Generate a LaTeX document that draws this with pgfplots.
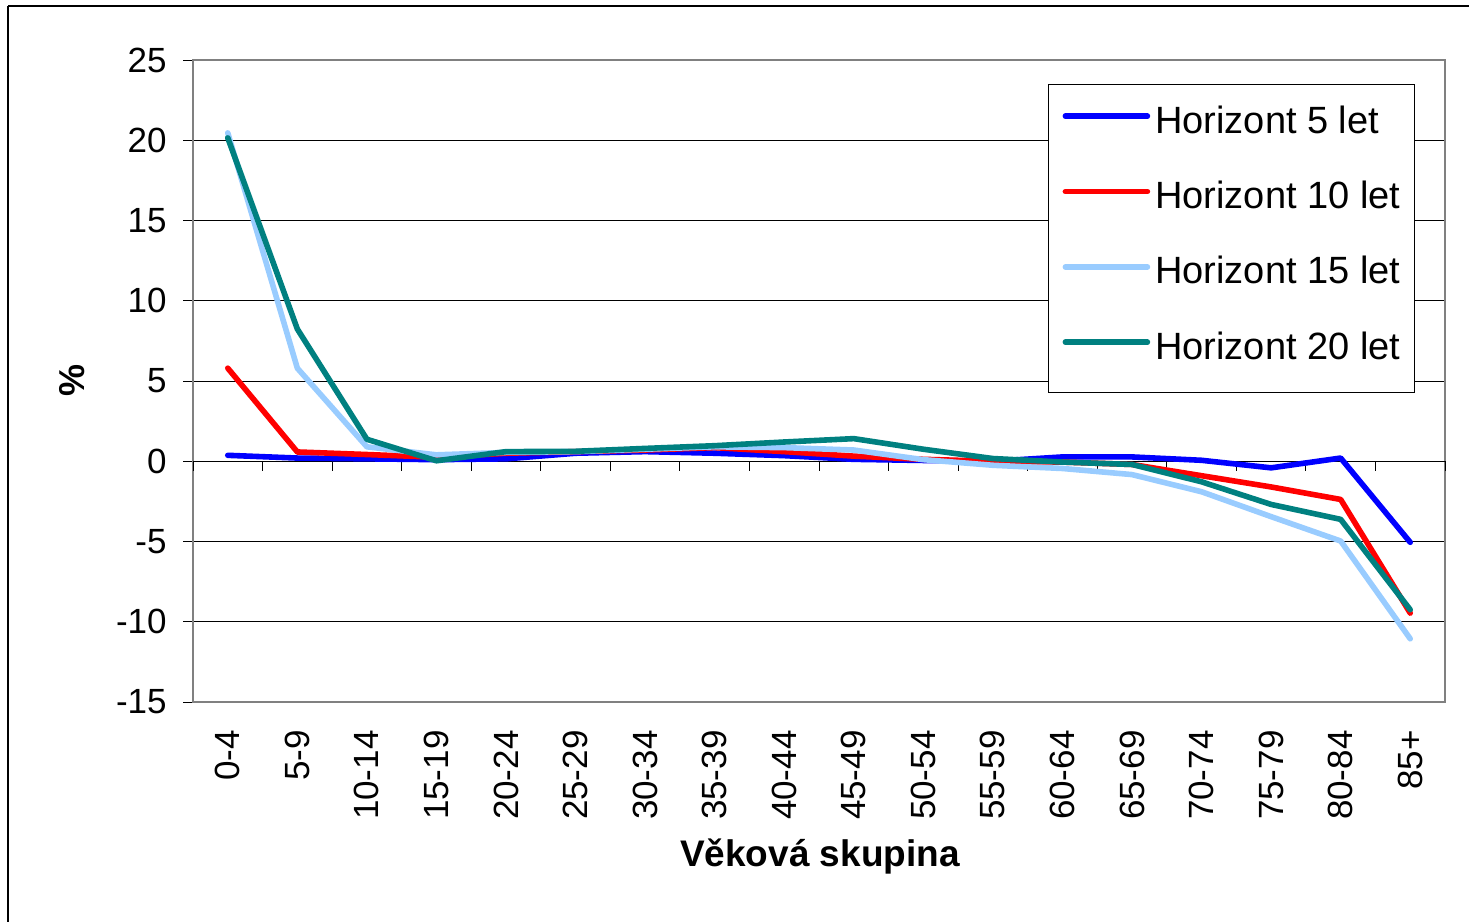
\documentclass[border=0pt]{standalone}
\usepackage{pgfplots}
\pgfplotsset{compat=1.18}
\usepackage{pgfplotstable}
\usepackage{fontspec}
\setmainfont{Liberation Sans}
\definecolor{hfive}{RGB}{0,0,255}
\definecolor{hten}{RGB}{255,0,0}
\definecolor{hfifteen}{RGB}{153,204,255}
\definecolor{htwenty}{RGB}{0,128,128}
\definecolor{framegray}{RGB}{128,128,128}
\pgfplotstableread{
x h5 h10 h15 h20
0 0.37 5.8 20.46 20.15
1 0.20 0.58 5.8 8.24
2 0.15 0.42 0.9 1.37
3 0.10 0.25 0.4 0.03
4 0.15 0.50 0.55 0.60
5 0.50 0.60 0.60 0.62
6 0.60 0.70 0.75 0.80
7 0.50 0.85 0.90 0.97
8 0.35 0.60 0.85 1.20
9 0.12 0.32 0.70 1.41
10 0.05 0.12 0.10 0.75
11 0.00 0.00 -0.25 0.17
12 0.27 -0.05 -0.45 -0.05
13 0.27 -0.20 -0.83 -0.20
14 0.06 -0.90 -1.90 -1.28
15 -0.41 -1.60 -3.45 -2.69
16 0.20 -2.38 -4.97 -3.62
17 -5.05 -9.46 -11.06 -9.25
}\datatable
\begin{document}
\begin{tikzpicture}
\useasboundingbox (0pt,0pt) rectangle (734.5pt,-461pt);
\draw[black, line width=0.8pt] (4pt,-3pt) -- (760pt,-3pt);
\draw[black, line width=0.8pt] (4pt,-3pt) -- (4pt,-480pt);
\begin{axis}[
  at={(96.5pt,-351pt)}, anchor=south west,
  scale only axis, width=626pt, height=321pt,
  xmin=-0.5, xmax=17.5, ymin=-15, ymax=25,
  xtick={0,...,17},
  xticklabels={0-4,5-9,10-14,15-19,20-24,25-29,30-34,35-39,40-44,45-49,50-54,55-59,60-64,65-69,70-74,75-79,80-84,85+},
  xtick style={draw=none},
  xticklabel style={rotate=90, anchor=east, inner sep=0pt, font=\fontsize{17.5pt}{20pt}\selectfont},
  xticklabel shift=14pt,
  ytick={-15,-10,...,25},
  ytick pos=left,
  ytick align=outside,
  ytick style={black, line width=0.5pt},
  major tick length=5pt,
  yticklabel style={inner sep=0pt, font=\fontsize{17.5pt}{20pt}\selectfont},
  yticklabel shift=8pt,
  /pgf/number format/assume math mode=true,
  ymajorgrids, grid style={black, line width=0.5pt},
  axis line style={framegray, line width=1.3pt},
  legend style={at={(0.683,0.9626)}, anchor=north west, draw=black, line width=0.5pt,
    inner xsep=7pt, inner ysep=10.5pt, row sep=17.9pt, column sep=2.5pt,
    nodes={inner sep=0pt, text depth=6pt, font=\fontsize{19pt}{22pt}\selectfont}},
  legend cell align=left,
  legend image code/.code={\draw[#1, line width=2.8pt] (0pt,4.5pt) -- (41pt,4.5pt);},
  every axis plot/.append style={line width=2.8pt, line cap=round, line join=round},
  clip=false,
]
\draw[black, line width=0.75pt] (axis cs:-0.5,0) -- (axis cs:17.5,0);
\pgfplotsinvokeforeach{-0.5,0.5,...,17.5}{
  \draw[black, line width=0.5pt] (axis cs:#1,0) -- ++(0pt,-5pt);
}
\addplot[hfive] table[x=x, y=h5] {\datatable};
\addplot[hten] table[x=x, y=h10] {\datatable};
\addplot[hfifteen] table[x=x, y=h15] {\datatable};
\addplot[htwenty] table[x=x, y=h20] {\datatable};
\legend{Horizont 5 let, Horizont 10 let, Horizont 15 let, Horizont 20 let}
\end{axis}
\node[rotate=90, font=\bfseries\fontsize{18pt}{20pt}\selectfont] at (36pt,-190pt) {\%};
\node[font=\bfseries\fontsize{18.5pt}{20pt}\selectfont] at (410pt,-428.5pt) {Věková skupina};
\end{tikzpicture}
\end{document}
